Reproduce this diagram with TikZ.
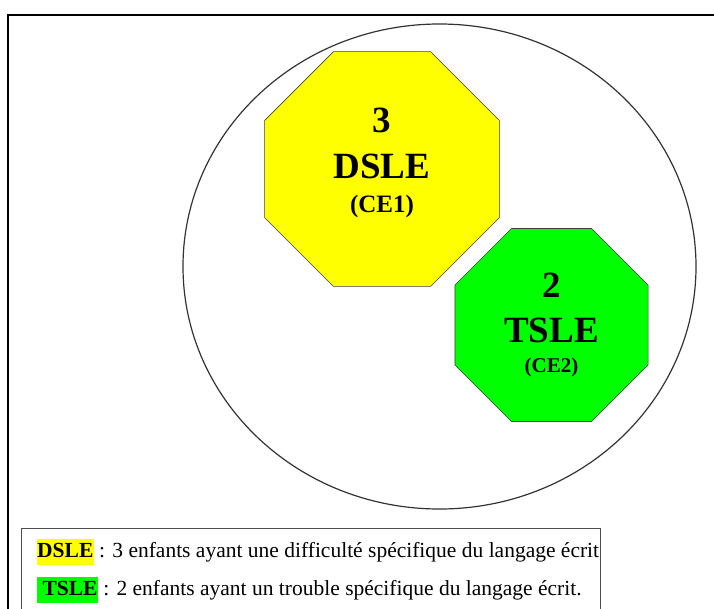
\documentclass[tikz,border=0pt]{standalone}
\usepackage{fontspec}
\setmainfont{Liberation Serif}
\usepackage{tikz}
\usetikzlibrary{positioning}
\usetikzlibrary{shapes.geometric}

\definecolor{surligne}{RGB}{255,255,0}
\definecolor{vert}{RGB}{0,255,0}
\tikzset{
	octo/.style={draw=black!75, fill=#1, regular polygon, regular polygon sides=8, inner sep=0pt, line width=0.6pt},
	gros/.style={font=\bfseries\fontsize{37}{40}\selectfont, anchor=base, inner sep=0pt},
	classe/.style={font=\bfseries\fontsize{#1}{26}\selectfont, anchor=base, inner sep=0pt},
	ligne/.style={font=\fontsize{21.5}{25}\selectfont, anchor=base west, inner sep=0pt}
}

\begin{document}
\begin{tikzpicture}[x=1pt,y=-1pt]
	\useasboundingbox (0,0) rectangle (714,608);
	\clip (0,0) rectangle (714,608);
	% cadre
	\draw[line width=2.4pt] (714,15) -| (8,620);
	% cercle
	\node[draw=black!80, line width=1.2pt, ellipse, minimum width=513pt, minimum height=485pt, inner sep=0pt] (cercle) at (439.5,266.5) {};
	% octogones
	\node[octo=surligne, minimum size=254pt] (dsle) at (382,169) {};
	\node[octo=vert, minimum size=209pt] (tsle) at (551.5,325) {};
	\node[gros] (dslenb) at (382,132) {3};
	\node[gros] (dslenom) at (382,178) {DSLE};
	\node[classe=25] (dslece) at (382,212) {(CE1)};
	\node[gros] (tslenb) at (551.5,297) {2};
	\node[gros] (tslenom) at (551.5,342) {TSLE};
	\node[classe=21] (tslece) at (551.5,372) {(CE2)};
	% legende
	\node[draw=black!70, line width=1pt, minimum width=579pt, minimum height=100pt, anchor=north west, inner sep=0pt] (legende) at (21,528) {};
	\setlength{\fboxsep}{0.5pt}
	\node[ligne] (cledsle) at (36.5,557) {\colorbox{surligne}{\strut\textbf{DSLE}} : 3 enfants ayant une difficulté spécifique du langage écrit};
	\node[ligne] (cletsle) at (36.5,595) {\colorbox{vert}{\strut\textbf{\ TSLE}} : 2 enfants ayant un trouble spécifique du langage écrit.};
\end{tikzpicture}
\end{document}
